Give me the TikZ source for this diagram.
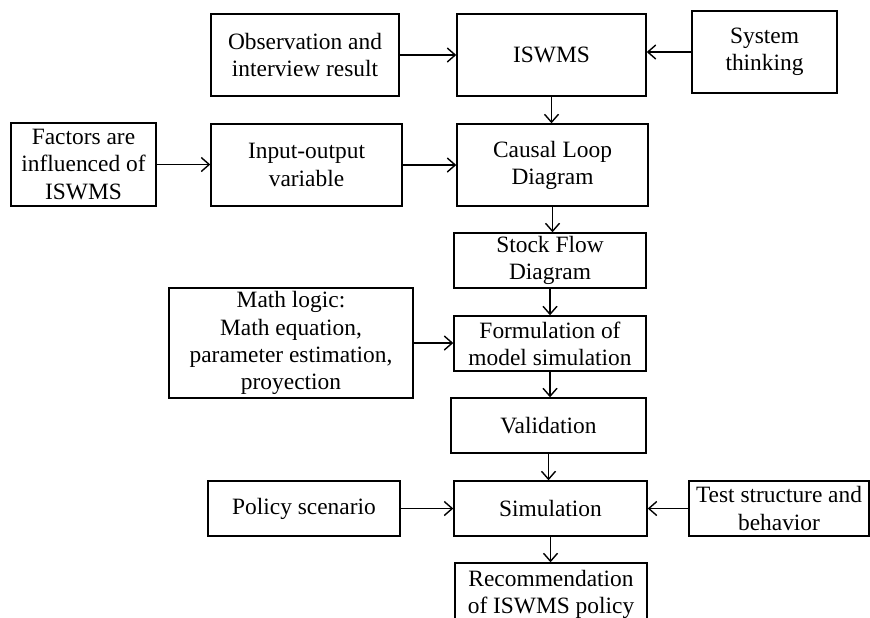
\documentclass[tikz,border=0pt]{standalone}
\usepackage{fontspec}
\setmainfont{Liberation Serif}
\usetikzlibrary{arrows.meta}
\definecolor{rahmen}{RGB}{0,0,0}

\begin{document}
\begin{tikzpicture}[x=0.5pt, y=-0.5pt,
	box/.style={draw=rahmen, line width=0.7pt, align=center, inner sep=0pt, font=\fontsize{11.7}{13.6}\selectfont},
	pfeil/.style={draw=rahmen, line width=0.7pt, -{Straight Barb[length=4pt,width=7pt]}}]

	% page frame, in pixels of the figure
	\clip (0,0) rectangle (870,617);

	% top row
	\node[box, minimum width=94pt, minimum height=41pt] (obs) at (305,55) {Observation and\\interview result};
	\node[box, minimum width=94.5pt, minimum height=41pt] (iswms) at (551.5,55) {ISWMS};
	\node[box, minimum width=72.5pt, minimum height=41pt] (sys) at (764.5,52) {System\\thinking};

	% second row
	\node[box, minimum width=72.5pt, minimum height=41.5pt] (factors) at (83.5,164.5) {Factors are\\influenced of\\ISWMS};
	\node[box, minimum width=95.5pt, minimum height=41pt] (inout) at (306.5,165) {Input-output\\variable};
	\node[box, minimum width=95.5pt, minimum height=41pt] (cld) at (552.5,165) {Causal Loop\\Diagram};

	% middle column
	\node[box, minimum width=96pt, minimum height=27.5pt] (stock) at (550,260.5) {Stock Flow\\Diagram};
	\node[box, minimum width=122pt, minimum height=55pt] (math) at (291,343) {Math logic:\\Math equation,\\parameter estimation,\\proyection};
	\node[box, minimum width=96pt, minimum height=27.5pt] (form) at (550,343.5) {Formulation of\\model simulation};
	\node[box, minimum width=97.5pt, minimum height=27.5pt] (valid) at (548.5,425.5) {Validation};

	% bottom rows
	\node[box, minimum width=96pt, minimum height=27.5pt] (policy) at (304,508.5) {Policy scenario};
	\node[box, minimum width=96.5pt, minimum height=27.5pt] (sim) at (550.5,508.5) {Simulation};
	\node[box, minimum width=90pt, minimum height=27.5pt] (test) at (779,508.5) {Test structure and\\behavior};
	\node[box, minimum width=96pt, minimum height=31pt] (rec) at (551,594) {Recommendation\\of ISWMS policy};

	% arrows
	\draw[pfeil] (obs.east) -- (iswms.west);
	\draw[pfeil] (sys.west) -- (sys.west -| iswms.east);
	\draw[pfeil] (iswms.south) -- (iswms.south |- cld.north);
	\draw[pfeil] (factors.east) -- (factors.east -| inout.west);
	\draw[pfeil] (inout.east) -- (cld.west);
	\draw[pfeil] (cld.south) -- (cld.south |- stock.north);
	\draw[pfeil] (stock.south) -- (form.north);
	\draw[pfeil] (math.east) -- (math.east -| form.west);
	\draw[pfeil] (form.south) -- (form.south |- valid.north);
	\draw[pfeil] (valid.south) -- (valid.south |- sim.north);
	\draw[pfeil] (policy.east) -- (sim.west);
	\draw[pfeil] (test.west) -- (sim.east);
	\draw[pfeil] (sim.south) -- (sim.south |- rec.north);

\end{tikzpicture}
\end{document}
